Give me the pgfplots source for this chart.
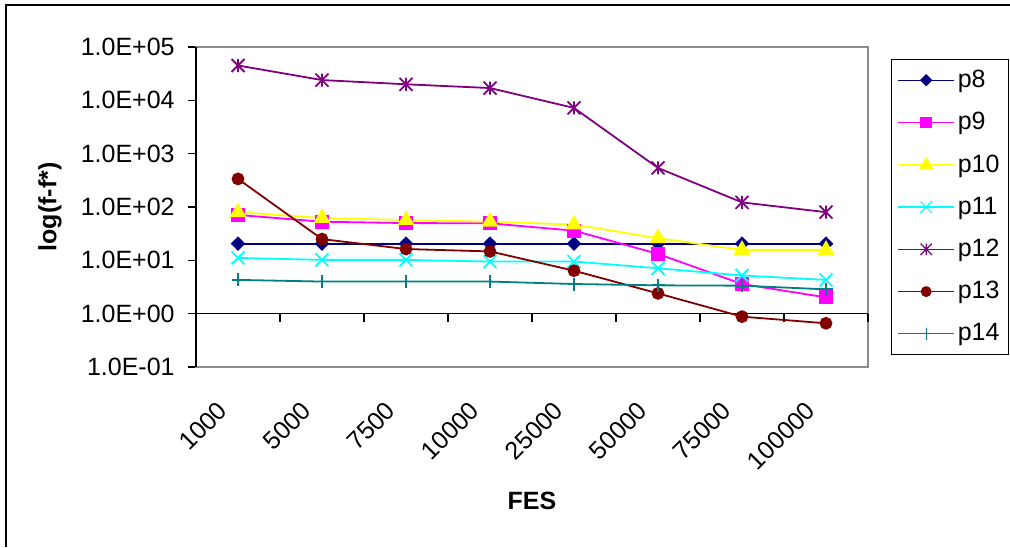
\documentclass[border=0pt]{standalone}
\usepackage{fontspec}
\setmainfont{Liberation Sans}
\usepackage{pgfplots}
\pgfplotsset{compat=1.18}

\definecolor{cEight}{RGB}{0,0,128}
\definecolor{cNine}{RGB}{255,0,255}
\definecolor{cTen}{RGB}{255,255,0}
\definecolor{cEleven}{RGB}{0,255,255}
\definecolor{cTwelve}{RGB}{128,0,128}
\definecolor{cThirteen}{RGB}{128,0,0}
\definecolor{cFourteen}{RGB}{0,128,128}
\definecolor{frameGray}{RGB}{140,140,140}

% square-box marks in the spreadsheet style
\pgfdeclareplotmark{sdiamond}{%
  \pgfpathmoveto{\pgfqpoint{0pt}{\pgfplotmarksize}}%
  \pgfpathlineto{\pgfqpoint{\pgfplotmarksize}{0pt}}%
  \pgfpathlineto{\pgfqpoint{0pt}{-\pgfplotmarksize}}%
  \pgfpathlineto{\pgfqpoint{-\pgfplotmarksize}{0pt}}%
  \pgfpathclose\pgfusepathqfillstroke}
\pgfdeclareplotmark{sx}{%
  \pgfpathmoveto{\pgfqpoint{-\pgfplotmarksize}{-\pgfplotmarksize}}%
  \pgfpathlineto{\pgfqpoint{\pgfplotmarksize}{\pgfplotmarksize}}%
  \pgfpathmoveto{\pgfqpoint{-\pgfplotmarksize}{\pgfplotmarksize}}%
  \pgfpathlineto{\pgfqpoint{\pgfplotmarksize}{-\pgfplotmarksize}}%
  \pgfusepathqstroke}
\pgfdeclareplotmark{sstar}{%
  \pgfpathmoveto{\pgfqpoint{-\pgfplotmarksize}{-\pgfplotmarksize}}%
  \pgfpathlineto{\pgfqpoint{\pgfplotmarksize}{\pgfplotmarksize}}%
  \pgfpathmoveto{\pgfqpoint{-\pgfplotmarksize}{\pgfplotmarksize}}%
  \pgfpathlineto{\pgfqpoint{\pgfplotmarksize}{-\pgfplotmarksize}}%
  \pgfpathmoveto{\pgfqpoint{0pt}{-\pgfplotmarksize}}%
  \pgfpathlineto{\pgfqpoint{0pt}{\pgfplotmarksize}}%
  \pgfusepathqstroke}

\newcommand{\chartfont}{\fontsize{12.5}{15}\selectfont}

\begin{document}
\begin{tikzpicture}
\useasboundingbox (0,0) rectangle (505pt,-273.5pt);
\fill[white] (0,0) rectangle (505pt,-273.5pt);
\draw[line width=0.65pt] (3pt,-273.5pt) -- (3pt,-2.5pt) -- (505pt,-2.5pt);

\begin{axis}[
  at={(98pt,-183.5pt)}, anchor=south west,
  scale only axis, width=336pt, height=160pt,
  xmin=-0.5, xmax=7.5,
  ymode=log, ymin=0.1, ymax=1e5,
  axis line style={draw=frameGray, line width=1pt},
  ytick={0.1,1,10,100,1000,10000,100000},
  yticklabels={1.0E-01,1.0E+00,1.0E+01,1.0E+02,1.0E+03,1.0E+04,1.0E+05},
  yminorticks=false,
  ytick pos=left,
  ytick style={black, line width=0.75pt},
  tick align=outside,
  major tick length=4pt,
  xtick={0,...,7},
  xticklabels={1000,5000,7500,10000,25000,50000,75000,100000},
  xtick style={draw=none},
  xticklabel style={xshift=-7.5pt, yshift=-0.5pt, rotate=45, anchor=east, inner sep=0pt},
  xticklabel shift=15pt,
  yticklabel style={inner xsep=0pt},
  yticklabel shift=6.5pt,
  tick label style={font=\chartfont},
  clip=false,
  every axis plot/.append style={line width=0.9pt},
  legend cell align=left,
  legend style={at={(1.0342,0.9625)}, anchor=north west,
    draw=black, line width=0.6pt, fill=white,
    inner xsep=3pt, inner ysep=1pt, row sep=2.6pt,
    font=\chartfont,
    nodes={inner xsep=1.5pt, inner ysep=4.17pt}},
  legend image code/.code={%
    \draw[mark repeat=2, mark phase=2, line width=0.6pt, mark options={scale=0.88}]
      plot coordinates {(0pt,0pt) (14pt,0pt) (28pt,0pt)};},
]
% axis at y = 1 with the category separators
\draw[black, line width=0.75pt] (axis cs:-0.5,1) -- (axis cs:7.5,1);
\pgfplotsinvokeforeach{0.5,1.5,2.5,3.5,4.5,5.5,6.5,7.5}{
  \draw[black, line width=0.75pt] (axis cs:#1,1) -- ++(0pt,-4pt);
}
\draw[black, line width=0.75pt] (rel axis cs:0,0) -- (rel axis cs:0,1);

\addplot[color=cEight, mark=sdiamond, mark size=3pt] coordinates {
  (0,20.5) (1,20.5) (2,20.5) (3,20.5) (4,20.5) (5,20.5) (6,20.5) (7,20.5)};
\addlegendentry{p8}
\addplot[color=cNine, mark=square*, mark size=3pt] coordinates {
  (0,71) (1,53) (2,50) (3,49.5) (4,36) (5,13.2) (6,3.6) (7,2.02)};
\addlegendentry{p9}
\addplot[color=cTen, mark=triangle*, mark size=4pt] coordinates {
  (0,80) (1,62) (2,57) (3,53) (4,47) (5,26) (6,15.7) (7,15.7)};
\addlegendentry{p10}
\addplot[color=cEleven, mark=sx, mark size=3.25pt] coordinates {
  (0,11.1) (1,10.2) (2,10.2) (3,9.5) (4,9.5) (5,7.1) (6,5.2) (7,4.3)};
\addlegendentry{p11}
\addplot[color=cTwelve, mark=sstar, mark size=3.25pt] coordinates {
  (0,45000) (1,24000) (2,20000) (3,17000) (4,7200) (5,540) (6,122) (7,80)};
\addlegendentry{p12}
\addplot[color=cThirteen, mark=*, mark size=2.75pt] coordinates {
  (0,336) (1,25) (2,16.3) (3,14.7) (4,6.4) (5,2.4) (6,0.88) (7,0.66)};
\addlegendentry{p13}
\addplot[color=cFourteen, mark=+, mark size=3.25pt] coordinates {
  (0,4.3) (1,4.0) (2,4.0) (3,4.0) (4,3.6) (5,3.4) (6,3.35) (7,2.86)};
\addlegendentry{p14}
\end{axis}

\node[font=\bfseries\chartfont] at (266pt,-250.5pt) {FES};
\node[font=\bfseries\chartfont, rotate=90] at (25pt,-103.5pt) {log(f-f*)};
\end{tikzpicture}
\end{document}
